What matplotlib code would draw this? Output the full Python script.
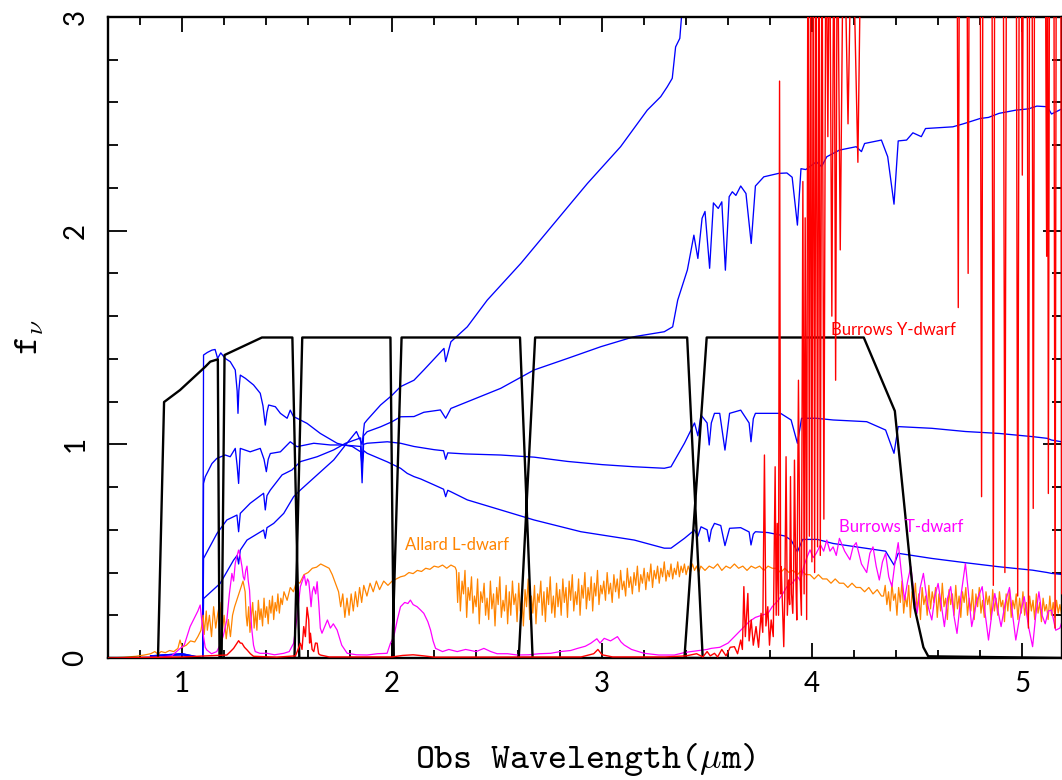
import numpy as np
import matplotlib
matplotlib.use("Agg")
import matplotlib.pyplot as plt
from matplotlib.ticker import MultipleLocator

plt.rcParams['mathtext.fontset'] = 'cm'

# filter curves (black)
filt_x = [0.647, 0.885, 0.914, 0.99, 1.11, 1.134, 1.170, 1.178, 1.188, 1.202, 1.38, 1.525, 1.558,
          1.535, 1.572, 1.992, 2.008, 2.000, 2.045, 2.609, 2.669, 2.603, 2.681, 3.405, 3.479,
          3.392, 3.498, 4.246, 4.394, 4.488, 4.53, 4.553, 5.2]
filt_y = [0.0, 0.0, 1.198, 1.254, 1.363, 1.387, 1.398, 0.0, 0.0, 1.418, 1.5, 1.5, 0.0,
          0.0, 1.5, 1.5, 0.0, 0.0, 1.5, 1.5, 0.0, 0.0, 1.5, 1.5, 0.0,
          0.0, 1.5, 1.5, 1.156, 0.234, 0.05, 0.008, 0.0]

# four blue model spectra (x, y pairs)
blue1 = np.array([
    [0.85, 0.01], [1.0, 0.02], [1.05, 0.01], [1.098, 0.0], [1.102, 1.418], [1.12, 1.43],
    [1.142, 1.441], [1.157, 1.444], [1.169, 1.402], [1.184, 1.428], [1.205, 1.402],
    [1.229, 1.387], [1.253, 1.348], [1.262, 1.25], [1.266, 1.145], [1.27, 1.25],
    [1.277, 1.324], [1.301, 1.309], [1.34, 1.278], [1.372, 1.239], [1.385, 1.18],
    [1.396, 1.09], [1.404, 1.15], [1.412, 1.184], [1.444, 1.176], [1.468, 1.145],
    [1.5, 1.122], [1.515, 1.16], [1.53, 1.13], [1.547, 1.122], [1.595, 1.098],
    [1.658, 1.051], [1.738, 1.005], [1.77, 0.997], [1.81, 0.99], [1.85, 0.965],
    [1.857, 0.9], [1.865, 0.97], [1.881, 0.958], [1.977, 0.918], [2.04, 0.888],
    [2.072, 0.864], [2.104, 0.849], [2.136, 0.838], [2.2, 0.81], [2.245, 0.79],
    [2.255, 0.755], [2.265, 0.785], [2.28, 0.778], [2.358, 0.740], [2.517, 0.693],
    [2.676, 0.646], [2.899, 0.591], [3.153, 0.552], [3.296, 0.514], [3.328, 0.514],
    [3.392, 0.560], [3.44, 0.599], [3.456, 0.57], [3.471, 0.614], [3.50, 0.6],
    [3.51, 0.545], [3.52, 0.6], [3.535, 0.630], [3.565, 0.62], [3.585, 0.526],
    [3.607, 0.607], [3.66, 0.61], [3.70, 0.59], [3.709, 0.529], [3.72, 0.58],
    [3.73, 0.591], [3.79, 0.587], [3.87, 0.571], [3.90, 0.552], [3.93, 0.497],
    [3.955, 0.555], [4.025, 0.555], [4.10, 0.536], [4.26, 0.513], [4.35, 0.50],
    [4.39, 0.435], [4.41, 0.49], [4.57, 0.466], [4.73, 0.446], [4.89, 0.427],
    [5.05, 0.411], [5.12, 0.40], [5.14, 0.396], [5.2, 0.39]])

blue2 = np.array([
    [0.85, 0.01], [1.0, 0.02], [1.05, 0.01], [1.098, 0.0], [1.102, 0.817], [1.11, 0.848],
    [1.142, 0.91], [1.165, 0.934], [1.205, 0.95], [1.229, 0.942], [1.253, 0.981],
    [1.262, 0.9], [1.269, 0.817], [1.277, 0.981], [1.324, 0.965], [1.372, 0.981],
    [1.39, 0.93], [1.401, 0.872], [1.41, 0.93], [1.42, 0.957], [1.468, 0.965],
    [1.515, 1.012], [1.547, 0.989], [1.627, 1.005], [1.706, 0.997], [1.77, 0.997],
    [1.85, 0.99], [1.857, 0.82], [1.864, 1.0], [1.881, 1.005], [1.977, 1.012],
    [2.04, 1.005], [2.104, 0.99], [2.2, 0.975], [2.245, 0.97], [2.255, 0.93],
    [2.265, 0.96], [2.35, 0.955], [2.517, 0.95], [2.676, 0.94], [2.835, 0.92],
    [3.0, 0.905], [3.153, 0.895], [3.296, 0.888], [3.328, 0.895], [3.392, 1.005],
    [3.44, 1.10], [3.456, 1.04], [3.471, 1.137], [3.50, 1.10], [3.51, 0.997],
    [3.52, 1.10], [3.535, 1.145], [3.56, 1.145], [3.585, 0.973], [3.607, 1.145],
    [3.66, 1.16], [3.70, 1.10], [3.709, 1.012], [3.72, 1.12], [3.73, 1.145],
    [3.85, 1.145], [3.90, 1.114], [3.93, 1.005], [3.95, 1.122], [4.02, 1.122],
    [4.10, 1.114], [4.26, 1.106], [4.35, 1.067], [4.39, 0.958], [4.41, 1.083],
    [4.57, 1.075], [4.73, 1.06], [4.89, 1.051], [5.05, 1.036], [5.12, 1.028],
    [5.14, 1.02], [5.2, 1.01]])

blue3 = np.array([
    [0.85, 0.01], [1.0, 0.015], [1.098, 0.0], [1.102, 0.466], [1.166, 0.583],
    [1.213, 0.646], [1.261, 0.669], [1.269, 0.591], [1.277, 0.677], [1.324, 0.724],
    [1.388, 0.771], [1.396, 0.693], [1.404, 0.76], [1.42, 0.786], [1.476, 0.857],
    [1.523, 0.88], [1.563, 0.919], [1.643, 0.942], [1.722, 0.974], [1.778, 1.005],
    [1.85, 1.03], [1.857, 0.9], [1.864, 1.04], [1.881, 1.059], [1.945, 1.082],
    [2.0, 1.106], [2.04, 1.129], [2.104, 1.13], [2.151, 1.15], [2.23, 1.161],
    [2.255, 1.122], [2.28, 1.168], [2.517, 1.262], [2.676, 1.348], [2.835, 1.402],
    [2.994, 1.457], [3.153, 1.504], [3.296, 1.527], [3.336, 1.55], [3.36, 1.675],
    [3.406, 1.816], [3.437, 1.979], [3.456, 1.87], [3.476, 2.058], [3.49, 2.09],
    [3.512, 1.824], [3.53, 2.13], [3.553, 2.104], [3.57, 2.135], [3.587, 1.815],
    [3.605, 2.159], [3.62, 2.182], [3.637, 2.165], [3.66, 2.209], [3.685, 2.174],
    [3.71, 1.94], [3.73, 2.209], [3.77, 2.252], [3.84, 2.268], [3.88, 2.27],
    [3.905, 2.25], [3.93, 2.026], [3.947, 2.29], [3.97, 2.286], [4.02, 2.322],
    [4.045, 2.30], [4.07, 2.346], [4.13, 2.377], [4.21, 2.393], [4.235, 2.37],
    [4.25, 2.408], [4.33, 2.424], [4.36, 2.346], [4.39, 2.124], [4.41, 2.42],
    [4.45, 2.424], [4.48, 2.458], [4.52, 2.44], [4.54, 2.478], [4.67, 2.486],
    [4.72, 2.50], [4.80, 2.525], [4.84, 2.53], [4.89, 2.549], [4.97, 2.564],
    [5.03, 2.57], [5.07, 2.583], [5.12, 2.58], [5.14, 2.546], [5.2, 2.575]])

blue4 = np.array([
    [0.85, 0.01], [1.0, 0.015], [1.098, 0.0], [1.102, 0.278], [1.181, 0.349],
    [1.245, 0.458], [1.262, 0.48], [1.269, 0.44], [1.277, 0.505], [1.309, 0.552],
    [1.388, 0.599], [1.396, 0.56], [1.404, 0.61], [1.436, 0.63], [1.484, 0.677],
    [1.531, 0.755], [1.563, 0.786], [1.643, 0.857], [1.722, 0.927], [1.778, 0.997],
    [1.83, 1.06], [1.857, 1.0], [1.868, 1.098], [1.881, 1.114], [1.945, 1.184],
    [2.0, 1.23], [2.04, 1.27], [2.104, 1.30], [2.151, 1.348], [2.247, 1.449],
    [2.255, 1.387], [2.28, 1.48], [2.358, 1.55], [2.453, 1.675], [2.613, 1.847],
    [2.851, 2.128], [2.93, 2.221], [3.088, 2.393], [3.215, 2.564], [3.279, 2.627],
    [3.31, 2.673], [3.334, 2.713], [3.35, 2.86], [3.37, 2.9], [3.378, 3.0],
    [3.39, 3.2]])

# Allard L-dwarf (orange)
allard = np.array([
    [0.65, 0.0], [0.72, 0.003], [0.78, 0.008], [0.82, 0.014], [0.85, 0.02], [0.87, 0.03],
    [0.885, 0.018], [0.9, 0.03], [0.92, 0.025], [0.94, 0.035], [0.96, 0.03], [0.98, 0.045],
    [0.99, 0.084], [1.0, 0.05], [1.02, 0.06], [1.04, 0.08], [1.06, 0.075], [1.075, 0.1],
    [1.09, 0.13], [1.10, 0.2], [1.105, 0.11], [1.115, 0.22], [1.12, 0.13], [1.13, 0.2],
    [1.14, 0.1], [1.15, 0.24], [1.16, 0.14], [1.17, 0.21], [1.18, 0.26], [1.19, 0.11],
    [1.20, 0.2], [1.21, 0.09], [1.22, 0.18], [1.23, 0.1], [1.24, 0.2], [1.25, 0.24],
    [1.26, 0.27], [1.27, 0.3], [1.28, 0.33], [1.29, 0.36], [1.30, 0.31], [1.305, 0.2],
    [1.31, 0.15], [1.317, 0.24], [1.323, 0.12], [1.33, 0.2], [1.336, 0.26], [1.343, 0.14],
    [1.35, 0.22], [1.356, 0.13], [1.363, 0.27], [1.37, 0.18], [1.376, 0.23], [1.383, 0.15],
    [1.39, 0.28], [1.396, 0.19], [1.403, 0.24], [1.41, 0.16], [1.416, 0.27], [1.423, 0.21],
    [1.43, 0.29], [1.436, 0.18], [1.443, 0.26], [1.45, 0.22], [1.456, 0.3], [1.463, 0.21],
    [1.47, 0.28], [1.477, 0.25], [1.485, 0.31], [1.5, 0.27], [1.515, 0.33], [1.53, 0.31],
    [1.545, 0.36], [1.56, 0.35], [1.58, 0.39], [1.60, 0.40], [1.62, 0.42], [1.64, 0.425],
    [1.66, 0.44], [1.68, 0.43], [1.70, 0.42], [1.715, 0.39], [1.73, 0.35], [1.745, 0.31],
    [1.755, 0.24], [1.765, 0.3], [1.775, 0.19], [1.785, 0.28], [1.795, 0.2], [1.805, 0.3],
    [1.815, 0.22], [1.825, 0.31], [1.835, 0.24], [1.845, 0.33], [1.855, 0.26],
    [1.865, 0.34], [1.88, 0.29], [1.895, 0.35], [1.91, 0.31], [1.925, 0.36], [1.94, 0.32],
    [1.96, 0.36], [1.98, 0.34], [2.0, 0.36], [2.02, 0.37], [2.04, 0.38], [2.06, 0.385],
    [2.08, 0.4], [2.1, 0.395], [2.12, 0.41], [2.14, 0.405], [2.16, 0.42], [2.18, 0.415],
    [2.2, 0.43], [2.22, 0.425], [2.24, 0.435], [2.26, 0.42], [2.28, 0.435], [2.3, 0.425],
    [2.306, 0.41], [2.312, 0.26], [2.318, 0.4], [2.325, 0.22], [2.333, 0.36], [2.34, 0.3],
    [2.347, 0.41], [2.355, 0.19], [2.362, 0.33], [2.37, 0.27], [2.378, 0.38], [2.385, 0.21],
    [2.392, 0.29], [2.4, 0.24], [2.407, 0.37], [2.415, 0.16], [2.422, 0.31], [2.43, 0.26],
    [2.438, 0.35], [2.445, 0.2], [2.452, 0.28], [2.46, 0.18], [2.468, 0.36], [2.475, 0.23],
    [2.483, 0.3], [2.49, 0.15], [2.498, 0.33], [2.505, 0.25], [2.513, 0.38], [2.52, 0.19],
    [2.528, 0.27], [2.535, 0.22], [2.543, 0.34], [2.55, 0.16], [2.558, 0.31], [2.565, 0.2],
    [2.573, 0.36], [2.58, 0.25], [2.588, 0.3], [2.595, 0.17], [2.603, 0.35], [2.61, 0.22],
    [2.618, 0.28], [2.625, 0.15], [2.633, 0.32], [2.64, 0.24], [2.648, 0.37], [2.655, 0.18],
    [2.663, 0.29], [2.67, 0.21], [2.678, 0.34], [2.685, 0.16], [2.693, 0.3], [2.7, 0.26],
    [2.708, 0.36], [2.715, 0.2], [2.723, 0.31], [2.73, 0.17], [2.738, 0.33], [2.745, 0.25],
    [2.753, 0.38], [2.76, 0.21], [2.768, 0.29], [2.775, 0.19], [2.783, 0.35], [2.79, 0.24],
    [2.798, 0.32], [2.805, 0.2], [2.813, 0.37], [2.82, 0.26], [2.828, 0.33], [2.835, 0.19],
    [2.843, 0.36], [2.85, 0.27], [2.858, 0.39], [2.865, 0.22], [2.873, 0.31], [2.88, 0.25],
    [2.888, 0.37], [2.895, 0.2], [2.903, 0.34], [2.91, 0.28], [2.918, 0.4], [2.925, 0.23],
    [2.933, 0.33], [2.94, 0.27], [2.948, 0.38], [2.955, 0.22], [2.963, 0.35], [2.97, 0.29],
    [2.978, 0.41], [2.985, 0.25], [2.993, 0.34], [3.0, 0.3], [3.008, 0.36], [3.016, 0.27],
    [3.024, 0.4], [3.032, 0.3], [3.04, 0.35], [3.048, 0.26], [3.056, 0.39], [3.064, 0.31],
    [3.072, 0.37], [3.08, 0.28], [3.088, 0.41], [3.096, 0.32], [3.104, 0.36], [3.112, 0.29],
    [3.12, 0.42], [3.128, 0.33], [3.136, 0.38], [3.144, 0.3], [3.152, 0.4], [3.16, 0.34],
    [3.168, 0.43], [3.176, 0.31], [3.184, 0.39], [3.192, 0.35], [3.2, 0.42], [3.208, 0.32],
    [3.216, 0.4], [3.224, 0.36], [3.232, 0.44], [3.24, 0.33], [3.248, 0.41], [3.256, 0.37],
    [3.264, 0.43], [3.272, 0.35], [3.28, 0.42], [3.288, 0.38], [3.296, 0.45], [3.304, 0.36],
    [3.312, 0.41], [3.32, 0.38], [3.328, 0.44], [3.336, 0.37], [3.344, 0.42], [3.352, 0.39],
    [3.36, 0.45], [3.368, 0.38], [3.376, 0.43], [3.384, 0.4], [3.392, 0.44], [3.4, 0.39],
    [3.41, 0.43], [3.42, 0.4], [3.43, 0.44], [3.44, 0.41], [3.45, 0.43], [3.46, 0.4],
    [3.47, 0.43], [3.49, 0.41], [3.51, 0.43], [3.53, 0.42], [3.55, 0.44], [3.57, 0.41],
    [3.59, 0.43], [3.61, 0.42], [3.63, 0.44], [3.65, 0.42], [3.67, 0.43], [3.69, 0.41],
    [3.71, 0.43], [3.73, 0.42], [3.75, 0.43], [3.77, 0.41], [3.79, 0.43], [3.81, 0.42],
    [3.83, 0.42], [3.85, 0.4], [3.87, 0.42], [3.89, 0.4], [3.91, 0.41], [3.93, 0.39],
    [3.95, 0.41], [3.97, 0.39], [3.99, 0.39], [4.01, 0.37], [4.03, 0.39], [4.05, 0.37],
    [4.07, 0.37], [4.09, 0.35], [4.11, 0.37], [4.13, 0.35], [4.15, 0.35], [4.17, 0.33],
    [4.19, 0.35], [4.21, 0.33], [4.23, 0.33], [4.25, 0.31], [4.27, 0.33], [4.29, 0.3],
    [4.31, 0.32], [4.33, 0.29], [4.34, 0.29], [4.348, 0.34], [4.356, 0.25], [4.364, 0.31],
    [4.372, 0.22], [4.38, 0.35], [4.388, 0.27], [4.396, 0.3], [4.404, 0.2], [4.412, 0.33],
    [4.42, 0.26], [4.428, 0.36], [4.436, 0.21], [4.444, 0.29], [4.452, 0.24], [4.46, 0.34],
    [4.468, 0.19], [4.476, 0.31], [4.484, 0.27], [4.492, 0.35], [4.5, 0.22], [4.508, 0.3],
    [4.516, 0.18], [4.524, 0.33], [4.532, 0.25], [4.54, 0.29], [4.548, 0.2], [4.556, 0.34],
    [4.564, 0.23], [4.572, 0.31], [4.58, 0.26], [4.588, 0.33], [4.596, 0.19], [4.604, 0.3],
    [4.612, 0.22], [4.62, 0.35], [4.628, 0.24], [4.636, 0.28], [4.644, 0.18], [4.652, 0.32],
    [4.66, 0.25], [4.668, 0.3], [4.676, 0.2], [4.684, 0.34], [4.692, 0.23], [4.7, 0.29],
    [4.708, 0.19], [4.716, 0.31], [4.724, 0.26], [4.732, 0.33], [4.74, 0.2], [4.748, 0.28],
    [4.756, 0.22], [4.764, 0.32], [4.772, 0.18], [4.78, 0.3], [4.788, 0.24], [4.796, 0.33],
    [4.804, 0.21], [4.812, 0.27], [4.82, 0.19], [4.828, 0.31], [4.836, 0.25], [4.844, 0.29],
    [4.852, 0.18], [4.86, 0.32], [4.868, 0.22], [4.876, 0.28], [4.884, 0.2], [4.892, 0.31],
    [4.9, 0.24], [4.908, 0.27], [4.916, 0.17], [4.924, 0.3], [4.932, 0.22], [4.94, 0.32],
    [4.948, 0.19], [4.956, 0.27], [4.964, 0.23], [4.972, 0.3], [4.98, 0.18], [4.988, 0.28],
    [4.996, 0.21], [5.004, 0.31], [5.012, 0.2], [5.02, 0.26], [5.028, 0.17], [5.036, 0.29],
    [5.044, 0.22], [5.052, 0.27], [5.06, 0.18], [5.068, 0.3], [5.076, 0.21], [5.084, 0.26],
    [5.092, 0.17], [5.1, 0.28], [5.108, 0.22], [5.116, 0.25], [5.124, 0.18], [5.132, 0.29],
    [5.14, 0.2], [5.148, 0.26], [5.156, 0.19], [5.164, 0.27], [5.172, 0.21], [5.18, 0.25],
    [5.188, 0.2], [5.196, 0.24]])

# Burrows T-dwarf (magenta)
tdwarf = np.array([
    [0.65, 0.0], [0.8, 0.002], [0.9, 0.005], [0.95, 0.01], [0.991, 0.045], [1.01, 0.06],
    [1.038, 0.147], [1.06, 0.19], [1.075, 0.22], [1.086, 0.248], [1.095, 0.16],
    [1.102, 0.1], [1.11, 0.05], [1.118, 0.037], [1.14, 0.02], [1.165, 0.03], [1.18, 0.06],
    [1.195, 0.1], [1.213, 0.178], [1.225, 0.3], [1.237, 0.396], [1.245, 0.36],
    [1.253, 0.443], [1.262, 0.48], [1.269, 0.505], [1.277, 0.474], [1.285, 0.428],
    [1.291, 0.38], [1.297, 0.365], [1.303, 0.41], [1.309, 0.43], [1.315, 0.36],
    [1.321, 0.318], [1.327, 0.2], [1.332, 0.131], [1.34, 0.06], [1.348, 0.03],
    [1.37, 0.022], [1.404, 0.022], [1.44, 0.015], [1.484, 0.022], [1.51, 0.03],
    [1.531, 0.069], [1.548, 0.2], [1.563, 0.334], [1.572, 0.36], [1.582, 0.388],
    [1.59, 0.34], [1.597, 0.37], [1.603, 0.358], [1.609, 0.3], [1.614, 0.24], [1.62, 0.31],
    [1.627, 0.334], [1.636, 0.3], [1.643, 0.357], [1.651, 0.25], [1.658, 0.14],
    [1.666, 0.116], [1.68, 0.15], [1.692, 0.178], [1.706, 0.14], [1.72, 0.16],
    [1.738, 0.131], [1.76, 0.06], [1.786, 0.022], [1.83, 0.015], [1.881, 0.014],
    [1.93, 0.02], [1.976, 0.022], [1.992, 0.069], [2.008, 0.1], [2.025, 0.18],
    [2.04, 0.24], [2.06, 0.26], [2.075, 0.255], [2.087, 0.271], [2.1, 0.25],
    [2.119, 0.24], [2.135, 0.225], [2.151, 0.209], [2.17, 0.17], [2.183, 0.131],
    [2.195, 0.08], [2.207, 0.045], [2.24, 0.03], [2.27, 0.04], [2.31, 0.03], [2.35, 0.04],
    [2.4, 0.03], [2.437, 0.045], [2.47, 0.03], [2.5, 0.02], [2.55, 0.02], [2.596, 0.014],
    [2.65, 0.015], [2.7, 0.02], [2.755, 0.022], [2.8, 0.03], [2.85, 0.035], [2.883, 0.045],
    [2.92, 0.055], [2.946, 0.069], [2.975, 0.09], [2.99, 0.07], [3.01, 0.092], [3.04, 0.08],
    [3.073, 0.1], [3.09, 0.075], [3.105, 0.061], [3.14, 0.04], [3.2, 0.022], [3.27, 0.014],
    [3.344, 0.014], [3.39, 0.025], [3.423, 0.03], [3.46, 0.035], [3.5, 0.04],
    [3.519, 0.045], [3.56, 0.05], [3.6, 0.07], [3.63, 0.1], [3.66, 0.13], [3.7, 0.17],
    [3.73, 0.19], [3.76, 0.2], [3.79, 0.209], [3.81, 0.24], [3.84, 0.271], [3.86, 0.3],
    [3.88, 0.334], [3.905, 0.35], [3.93, 0.381], [3.945, 0.36], [3.96, 0.428],
    [3.975, 0.47], [3.99, 0.506], [4.005, 0.47], [4.02, 0.49], [4.04, 0.53], [4.055, 0.5],
    [4.07, 0.552], [4.085, 0.5], [4.10, 0.52], [4.115, 0.48], [4.13, 0.56], [4.155, 0.5],
    [4.18, 0.46], [4.195, 0.52], [4.21, 0.54], [4.235, 0.44], [4.26, 0.40], [4.275, 0.49],
    [4.29, 0.52], [4.305, 0.43], [4.32, 0.365], [4.335, 0.45], [4.35, 0.49], [4.365, 0.38],
    [4.38, 0.334], [4.395, 0.45], [4.41, 0.54], [4.425, 0.4], [4.44, 0.271], [4.455, 0.36],
    [4.47, 0.428], [4.485, 0.3], [4.50, 0.209], [4.515, 0.33], [4.53, 0.396], [4.55, 0.25],
    [4.57, 0.178], [4.585, 0.29], [4.60, 0.349], [4.615, 0.25], [4.63, 0.147],
    [4.645, 0.28], [4.66, 0.334], [4.675, 0.2], [4.69, 0.115], [4.71, 0.3], [4.73, 0.443],
    [4.745, 0.3], [4.76, 0.147], [4.785, 0.27], [4.81, 0.334], [4.825, 0.2], [4.84, 0.084],
    [4.855, 0.2], [4.87, 0.302], [4.885, 0.22], [4.90, 0.147], [4.92, 0.26], [4.94, 0.33],
    [4.955, 0.2], [4.97, 0.084], [4.99, 0.2], [5.01, 0.287], [5.03, 0.15], [5.05, 0.053],
    [5.065, 0.2], [5.08, 0.31], [5.095, 0.2], [5.11, 0.16], [5.125, 0.22], [5.14, 0.224],
    [5.16, 0.13], [5.18, 0.14], [5.2, 0.2]])

# Burrows Y-dwarf (red), runs off the top of the frame
ydwarf = np.array([
    [0.65, 0.0], [1.0, 0.005], [1.213, 0.014], [1.23, 0.03], [1.245, 0.045], [1.258, 0.065],
    [1.269, 0.081], [1.277, 0.07], [1.285, 0.069], [1.297, 0.05], [1.309, 0.038],
    [1.325, 0.02], [1.34, 0.008], [1.45, 0.004], [1.54, 0.01], [1.563, 0.069],
    [1.571, 0.04], [1.579, 0.147], [1.587, 0.1], [1.595, 0.237], [1.603, 0.178],
    [1.607, 0.07], [1.611, 0.116], [1.619, 0.04], [1.627, 0.03], [1.635, 0.07],
    [1.643, 0.069], [1.65, 0.02], [1.658, 0.014], [1.7, 0.005], [2.0, 0.005],
    [2.05, 0.012], [2.1, 0.015], [2.15, 0.01], [2.2, 0.004], [2.9, 0.005], [2.96, 0.02],
    [2.98, 0.04], [3.0, 0.015], [3.05, 0.005], [3.3, 0.005], [3.4, 0.01], [3.45, 0.02],
    [3.48, 0.005], [3.5, 0.03], [3.515, 0.01], [3.535, 0.022], [3.55, 0.005], [3.57, 0.04],
    [3.59, 0.01], [3.61, 0.05], [3.63, 0.053], [3.645, 0.02], [3.66, 0.084], [3.668, 0.04],
    [3.675, 0.334], [3.682, 0.1], [3.688, 0.2], [3.694, 0.302], [3.70, 0.08], [3.71, 0.178],
    [3.72, 0.06], [3.733, 0.147], [3.745, 0.05], [3.757, 0.209], [3.765, 0.12],
    [3.773, 0.95], [3.78, 0.15], [3.789, 0.24], [3.797, 0.06], [3.805, 0.178], [3.815, 0.1],
    [3.824, 0.895], [3.829, 0.2], [3.834, 0.63], [3.84, 0.2], [3.845, 2.70], [3.85, 0.3],
    [3.853, 0.428], [3.86, 0.2], [3.865, 0.053], [3.87, 0.3], [3.876, 0.942], [3.882, 0.2],
    [3.888, 0.365], [3.893, 0.25], [3.897, 0.849], [3.902, 0.3], [3.908, 0.209],
    [3.912, 0.4], [3.916, 0.926], [3.922, 0.4], [3.927, 0.178], [3.935, 1.30], [3.942, 0.4],
    [3.949, 0.2], [3.956, 2.23], [3.962, 0.3], [3.967, 2.06], [3.974, 0.18], [3.98, 3.6],
    [3.987, 0.57], [3.993, 3.6], [3.999, 0.45], [4.006, 3.6], [4.012, 0.40], [4.019, 3.6],
    [4.026, 0.52], [4.033, 3.6], [4.039, 0.48], [4.047, 3.6], [4.056, 0.65], [4.066, 3.6],
    [4.075, 2.44], [4.083, 3.6], [4.094, 1.60], [4.104, 3.6], [4.112, 1.30], [4.12, 3.6],
    [4.134, 1.91], [4.15, 3.6], [4.171, 2.50], [4.19, 3.6], [4.218, 2.32], [4.235, 3.6],
    [4.69, 3.6], [4.696, 1.64], [4.702, 3.6], [4.737, 3.6], [4.743, 1.80], [4.749, 3.6],
    [4.80, 3.6], [4.807, 0.755], [4.814, 3.6], [4.856, 3.6], [4.863, 0.34], [4.87, 3.6],
    [4.91, 3.6], [4.918, 0.40], [4.926, 3.6], [4.972, 3.6], [4.979, 0.29], [4.987, 3.6],
    [4.996, 3.6], [5.001, 2.26], [5.007, 3.6], [5.024, 3.6], [5.03, 0.14], [5.036, 3.6],
    [5.047, 3.6], [5.053, 0.7], [5.06, 3.6], [5.11, 3.6], [5.117, 1.88], [5.121, 3.6],
    [5.125, 0.77], [5.131, 3.6], [5.151, 3.6], [5.157, 0.14], [5.163, 3.6], [5.184, 3.6],
    [5.189, 0.30], [5.195, 3.6]])

fig = plt.figure(figsize=(10.62, 7.80), dpi=100)
ax = fig.add_axes([108 / 1062, 122 / 780, 954 / 1062, 641 / 780])

for b in (blue1, blue2, blue3, blue4):
    ax.plot(b[:, 0], b[:, 1], color='#0000ff', lw=0.95, zorder=2)
ax.plot(allard[:, 0], allard[:, 1], color='#ff8400', lw=0.9, zorder=2.1)
ax.plot(tdwarf[:, 0], tdwarf[:, 1], color='#ff00ff', lw=0.9, zorder=2.2)
ax.plot(filt_x, filt_y, color='black', lw=1.7, zorder=2.3)
ax.plot(ydwarf[:, 0], ydwarf[:, 1], color='#ff0000', lw=1.0, zorder=3)

ax.text(2.06, 0.505, 'Allard L-dwarf', color='#ff8400', fontsize=12, family='Lato')
ax.text(4.13, 0.59, 'Burrows T-dwarf', color='#ff00ff', fontsize=12, family='Lato')
ax.text(4.09, 1.51, 'Burrows Y-dwarf', color='#ff0000', fontsize=12, family='Lato')

ax.set_xlim(0.647, 5.19)
ax.set_ylim(0, 3)
ax.xaxis.set_major_locator(MultipleLocator(1))
ax.xaxis.set_minor_locator(MultipleLocator(0.2))
ax.yaxis.set_major_locator(MultipleLocator(1))
ax.yaxis.set_minor_locator(MultipleLocator(0.2))
ax.tick_params(which='both', direction='in', top=True, right=True, width=1.3)
ax.tick_params(axis='x', which='major', length=11, pad=9)
ax.tick_params(axis='x', which='minor', length=5.5)
ax.tick_params(axis='y', which='major', length=14, pad=14, labelrotation=90)
ax.tick_params(axis='y', which='minor', length=7)
for lab in ax.get_xticklabels() + ax.get_yticklabels():
    lab.set_family('Lato')
    lab.set_fontsize(20)
    lab.set_color('black')
for lab in ax.get_yticklabels():
    lab.set_va('center')
for sp in ax.spines.values():
    sp.set_linewidth(1.7)

ax.set_xlabel(r'Obs Wavelength($\mu$m)', family='cmtt10', fontsize=26, labelpad=32)
ax.set_ylabel(r'f$_\nu$', family='cmtt10', fontsize=26, labelpad=12)

fig.savefig('out.png', dpi=100)
